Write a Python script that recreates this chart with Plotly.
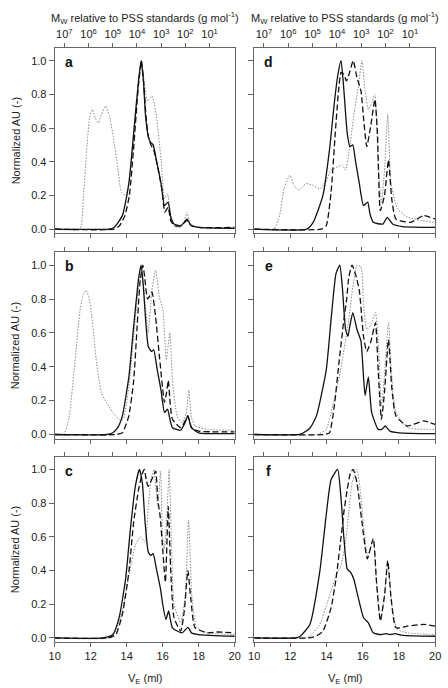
import plotly.graph_objects as go

# ---------------- data ----------------
# Panel a
a_solid_v = [10, 13.0, 13.3, 13.76, 14.12, 14.39, 14.66, 14.8, 14.93, 15.05, 15.2, 15.3, 15.47, 15.65, 15.91, 16.1, 16.3, 16.45, 16.63, 17.0, 17.2, 17.35, 17.55, 18.0, 20]
a_solid_y = [0, 0, 0.01, 0.08, 0.27, 0.57, 0.88, 1.0, 0.88, 0.67, 0.55, 0.52, 0.5, 0.41, 0.27, 0.14, 0.16, 0.07, 0.03, 0.02, 0.04, 0.06, 0.025, 0.01, 0.005]
a_dash_v = [10, 13.3, 13.6, 13.9, 14.15, 14.4, 14.65, 14.82, 14.95, 15.08, 15.22, 15.35, 15.5, 15.7, 15.95, 16.12, 16.3, 16.45, 16.65, 17.0, 17.35, 17.6, 18.0, 20]
a_dash_y = [0, 0, 0.02, 0.08, 0.2, 0.5, 0.85, 1.0, 0.86, 0.66, 0.54, 0.5, 0.47, 0.38, 0.24, 0.1, 0.13, 0.05, 0.02, 0.02, 0.05, 0.02, 0.01, 0.01]
a_dot_v = [10, 11.4, 11.6, 11.8, 11.95, 12.1, 12.25, 12.42, 12.6, 12.83, 13.05, 13.25, 13.5, 13.7, 13.95, 14.15, 14.3, 14.57, 14.75, 14.85, 15.0, 15.16, 15.41, 15.65, 15.91, 16.1, 16.27, 16.45, 16.63, 17.0, 17.2, 17.35, 17.55, 18.0, 20]
a_dot_y = [0, 0, 0.2, 0.5, 0.67, 0.71, 0.66, 0.63, 0.68, 0.73, 0.67, 0.55, 0.37, 0.22, 0.2, 0.3, 0.47, 0.8, 0.95, 0.97, 0.85, 0.76, 0.79, 0.67, 0.41, 0.18, 0.21, 0.08, 0.02, 0.01, 0.05, 0.1, 0.03, 0.01, 0.005]

# Panel b
b_solid_v = [10, 12.9, 13.23, 13.5, 13.76, 14.12, 14.39, 14.66, 14.8, 14.93, 15.05, 15.2, 15.38, 15.5, 15.7, 15.91, 16.1, 16.27, 16.4, 16.54, 17.0, 17.2, 17.4, 17.6, 18.0, 20]
b_solid_y = [0, 0, 0.01, 0.04, 0.11, 0.34, 0.64, 0.92, 1.0, 0.87, 0.68, 0.52, 0.49, 0.5, 0.38, 0.26, 0.13, 0.15, 0.09, 0.04, 0.025, 0.06, 0.11, 0.04, 0.01, 0.005]
b_dash_v = [10, 13.4, 13.76, 14.12, 14.39, 14.57, 14.75, 14.9, 15.0, 15.16, 15.3, 15.41, 15.6, 15.82, 16.1, 16.22, 16.31, 16.42, 16.54, 17.0, 17.2, 17.4, 17.6, 18.0, 20]
b_dash_y = [0, 0, 0.01, 0.11, 0.32, 0.62, 0.91, 1.0, 0.93, 0.8, 0.82, 0.84, 0.7, 0.46, 0.19, 0.25, 0.32, 0.18, 0.09, 0.04, 0.07, 0.11, 0.04, 0.02, 0.015]
b_dot_v = [10, 10.5, 10.8, 11.08, 11.43, 11.6, 11.76, 11.9, 12.06, 12.33, 12.6, 12.87, 13.23, 13.58, 13.8, 14.12, 14.39, 14.66, 14.85, 15.0, 15.2, 15.4, 15.61, 15.82, 16.0, 16.2, 16.4, 16.54, 16.8, 17.08, 17.3, 17.45, 17.6, 17.8, 18.5, 20]
b_dot_y = [0, 0, 0.1, 0.38, 0.75, 0.83, 0.85, 0.81, 0.7, 0.42, 0.245, 0.19, 0.13, 0.09, 0.09, 0.28, 0.58, 0.87, 0.95, 0.8, 0.6, 0.85, 0.97, 0.81, 0.745, 0.44, 0.6, 0.32, 0.11, 0.07, 0.12, 0.26, 0.1, 0.05, 0.03, 0.025]

# Panel c
c_solid_v = [10, 12.7, 13.23, 13.58, 13.94, 14.21, 14.48, 14.71, 14.87, 15.02, 15.2, 15.34, 15.47, 15.65, 15.88, 16.0, 16.18, 16.33, 16.54, 17.08, 17.4, 17.6, 18.0, 20]
c_solid_y = [0, 0, 0.02, 0.12, 0.35, 0.65, 0.9, 1.0, 0.92, 0.69, 0.51, 0.49, 0.5, 0.41, 0.29, 0.2, 0.11, 0.16, 0.06, 0.03, 0.063, 0.03, 0.02, 0.01]
c_dash_v = [10, 13.0, 13.4, 13.76, 14.12, 14.39, 14.66, 14.85, 14.98, 15.1, 15.2, 15.35, 15.47, 15.61, 15.73, 15.86, 16.0, 16.15, 16.31, 16.45, 16.63, 17.0, 17.2, 17.4, 17.56, 17.8, 18.5, 19.0, 20]
c_dash_y = [0, 0, 0.02, 0.14, 0.39, 0.69, 0.88, 0.97, 1.0, 0.93, 0.9, 0.93, 0.96, 0.99, 0.82, 0.72, 0.53, 0.33, 0.78, 0.39, 0.12, 0.04, 0.16, 0.4, 0.235, 0.06, 0.03, 0.035, 0.03]
c_dot_v = [10, 13.0, 13.4, 13.76, 14.12, 14.48, 14.75, 15.02, 15.2, 15.38, 15.52, 15.63, 15.73, 15.88, 16.0, 16.09, 16.22, 16.36, 16.48, 16.63, 17.0, 17.25, 17.44, 17.62, 17.9, 18.5, 20]
c_dot_y = [0, 0, 0.04, 0.16, 0.37, 0.55, 0.6, 0.57, 0.78, 0.96, 1.0, 0.88, 0.78, 0.99, 0.59, 0.53, 0.7, 1.0, 0.59, 0.2, 0.09, 0.25, 0.7, 0.25, 0.06, 0.03, 0.02]

# Panel d
d_solid_v = [10, 12.9, 13.26, 13.8, 14.16, 14.43, 14.6, 14.8, 14.96, 15.14, 15.29, 15.45, 15.59, 15.81, 16.04, 16.27, 16.4, 16.58, 17.11, 17.35, 17.65, 18.2, 20]
d_solid_y = [0, 0, 0.04, 0.2, 0.47, 0.75, 0.9, 1.0, 0.82, 0.57, 0.49, 0.5, 0.41, 0.27, 0.14, 0.16, 0.09, 0.04, 0.03, 0.07, 0.03, 0.015, 0.01]
d_dash_v = [10, 13.7, 13.98, 14.25, 14.48, 14.66, 14.8, 14.95, 15.1, 15.3, 15.47, 15.68, 15.9, 16.05, 16.22, 16.45, 16.67, 16.81, 16.97, 17.2, 17.42, 17.6, 17.83, 18.64, 19.35, 20]
d_dash_y = [0, 0, 0.02, 0.22, 0.57, 0.82, 0.93, 0.92, 0.88, 0.94, 1.0, 0.9, 0.82, 0.65, 0.49, 0.62, 0.77, 0.57, 0.11, 0.2, 0.41, 0.18, 0.06, 0.04, 0.08, 0.06]
d_dot_v = [10, 11.1, 11.4, 11.65, 11.97, 12.2, 12.46, 12.87, 13.26, 13.62, 13.95, 14.25, 14.6, 14.87, 15.05, 15.23, 15.5, 15.77, 15.95, 16.13, 16.31, 16.5, 16.67, 16.85, 17.03, 17.2, 17.38, 17.56, 17.92, 18.5, 19.3, 20]
d_dot_y = [0, 0, 0.08, 0.24, 0.32, 0.26, 0.23, 0.27, 0.26, 0.24, 0.28, 0.35, 0.37, 0.38, 0.35, 0.45, 0.67, 0.86, 1.0, 0.82, 0.71, 0.75, 0.8, 0.37, 0.16, 0.35, 0.68, 0.27, 0.12, 0.07, 0.05, 0.04]

# Panel e
e_solid_v = [10, 12.5, 12.72, 13.1, 13.44, 13.98, 14.25, 14.52, 14.73, 14.87, 15.05, 15.18, 15.3, 15.45, 15.68, 15.9, 16.04, 16.13, 16.31, 16.49, 16.85, 17.05, 17.24, 17.5, 18.0, 20]
e_solid_y = [0, 0, 0.01, 0.04, 0.11, 0.38, 0.68, 0.95, 1.0, 0.87, 0.62, 0.58, 0.65, 0.72, 0.62, 0.55, 0.34, 0.23, 0.34, 0.13, 0.03, 0.03, 0.05, 0.02, 0.01, 0.005]
e_dash_v = [10, 13.9, 14.16, 14.43, 14.7, 14.96, 15.1, 15.23, 15.41, 15.59, 15.81, 16.04, 16.22, 16.45, 16.7, 16.85, 17.03, 17.2, 17.42, 17.6, 17.83, 18.46, 19.35, 20]
e_dash_y = [0, 0, 0.01, 0.17, 0.44, 0.68, 0.79, 0.93, 1.0, 0.95, 0.85, 0.58, 0.49, 0.55, 0.66, 0.38, 0.09, 0.25, 0.56, 0.28, 0.11, 0.05, 0.08, 0.06]
e_dot_v = [10, 13.5, 13.98, 14.34, 14.7, 14.96, 15.23, 15.45, 15.68, 15.9, 16.04, 16.22, 16.45, 16.7, 16.87, 17.03, 17.2, 17.42, 17.58, 17.83, 18.5, 20]
e_dot_y = [0, 0, 0.03, 0.17, 0.34, 0.5, 0.68, 0.87, 1.0, 0.99, 0.77, 0.62, 0.65, 0.72, 0.52, 0.17, 0.35, 0.66, 0.38, 0.13, 0.04, 0.03]

# Panel f
f_solid_v = [10, 12.3, 12.54, 13.08, 13.62, 13.98, 14.25, 14.61, 14.79, 14.96, 15.14, 15.32, 15.5, 15.68, 15.86, 16.04, 16.31, 16.58, 17.0, 17.29, 17.5, 17.8, 18.2, 20]
f_solid_y = [0, 0, 0.01, 0.08, 0.39, 0.73, 0.94, 1.0, 0.84, 0.59, 0.41, 0.39, 0.35, 0.27, 0.19, 0.12, 0.09, 0.03, 0.02, 0.025, 0.02, 0.025, 0.015, 0.01]
f_dash_v = [10, 13.0, 13.4, 13.8, 14.25, 14.52, 14.79, 14.96, 15.14, 15.32, 15.47, 15.68, 15.95, 16.25, 16.58, 16.76, 16.97, 17.2, 17.38, 17.56, 17.83, 18.46, 19.35, 20]
f_dash_y = [0, 0, 0.01, 0.04, 0.18, 0.35, 0.59, 0.75, 0.88, 0.98, 1.0, 0.92, 0.69, 0.47, 0.59, 0.33, 0.1, 0.25, 0.46, 0.24, 0.06, 0.07, 0.08, 0.07]
f_dot_v = [10, 12.8, 13.08, 13.62, 14.16, 14.52, 14.79, 15.05, 15.23, 15.41, 15.68, 15.86, 16.04, 16.27, 16.58, 16.76, 16.97, 17.2, 17.38, 17.6, 17.9, 18.5, 20]
f_dot_y = [0, 0, 0.01, 0.08, 0.25, 0.37, 0.43, 0.57, 0.75, 0.92, 1.0, 0.88, 0.67, 0.49, 0.58, 0.33, 0.11, 0.25, 0.45, 0.2, 0.05, 0.03, 0.02]

panel_labels = ["a", "b", "c", "d", "e", "f"]
x_ticks = [10, 12, 14, 16, 18, 20]
y_ticks = [0.0, 0.2, 0.4, 0.6, 0.8, 1.0]
mw_exponents = [7, 6, 5, 4, 3, 2, 1]
# column calibration: V_E position of 10^7 and ml per decade
cal_v_at_1e7 = 10.54
cal_ml_per_decade = 1.344

panels = [
    (a_solid_v, a_solid_y, a_dash_v, a_dash_y, a_dot_v, a_dot_y),
    (b_solid_v, b_solid_y, b_dash_v, b_dash_y, b_dot_v, b_dot_y),
    (c_solid_v, c_solid_y, c_dash_v, c_dash_y, c_dot_v, c_dot_y),
    (d_solid_v, d_solid_y, d_dash_v, d_dash_y, d_dot_v, d_dot_y),
    (e_solid_v, e_solid_y, e_dash_v, e_dash_y, e_dot_v, e_dot_y),
    (f_solid_v, f_solid_y, f_dash_v, f_dash_y, f_dot_v, f_dot_y),
]

# ---------------- layout geometry ----------------
W, H = 448, 688
col_px = [(50, 235), (255, 441)]
row_px = [(48, 234), (253, 440), (458, 644)]
FONT = "Liberation Sans, Arial, sans-serif"
AXC = "#666666"
TXT = "#222222"

mw_tickvals = [cal_v_at_1e7 + (7 - e) * cal_ml_per_decade for e in mw_exponents]
mw_ticktext = ["10<sup>%d</sup>" % e for e in mw_exponents]

fig = go.Figure()
layout = dict(
    width=W, height=H,
    margin=dict(l=0, r=0, t=0, b=0),
    paper_bgcolor="white", plot_bgcolor="white",
    showlegend=False,
    font=dict(family=FONT, size=11, color=TXT),
)
annotations = []

for i, (sv, sy, dv, dy, ov, oy) in enumerate(panels):
    col = i // 3
    row = i % 3
    n = i + 1
    xs = "" if n == 1 else str(n)
    xd = [col_px[col][0] / W, col_px[col][1] / W]
    yd = [1 - row_px[row][1] / H, 1 - row_px[row][0] / H]

    fig.add_trace(go.Scatter(x=ov, y=oy, mode="lines", xaxis="x" + xs, yaxis="y" + xs,
                             line=dict(color="#8a8a8a", width=1.0, dash="1.5px,1.5px", shape="spline", smoothing=0.5)))
    fig.add_trace(go.Scatter(x=dv, y=dy, mode="lines", xaxis="x" + xs, yaxis="y" + xs,
                             line=dict(color="#111111", width=1.3, dash="6px,3px", shape="spline", smoothing=0.5)))
    fig.add_trace(go.Scatter(x=sv, y=sy, mode="lines", xaxis="x" + xs, yaxis="y" + xs,
                             line=dict(color="#111111", width=1.3, shape="spline", smoothing=0.5)))

    layout["xaxis" + xs] = dict(
        domain=xd, anchor="y" + xs, range=[10, 20],
        tickmode="array", tickvals=x_ticks, ticktext=[str(t) for t in x_ticks],
        showticklabels=(row == 2), ticks="outside", ticklen=4, tickcolor=AXC,
        showline=True, linecolor=AXC, linewidth=1, mirror=True,
        showgrid=False, zeroline=False,
        tickfont=dict(family=FONT, size=11, color=TXT),
    )
    layout["yaxis" + xs] = dict(
        domain=yd, anchor="x" + xs, range=[-0.025, 1.076],
        tickmode="array", tickvals=y_ticks, ticktext=["%.1f" % t for t in y_ticks],
        showticklabels=(col == 0), ticks="outside", ticklen=5, tickcolor=AXC,
        showline=True, linecolor=AXC, linewidth=1, mirror=True,
        showgrid=False, zeroline=False,
        tickfont=dict(family=FONT, size=11, color=TXT),
    )
    top = str(n + 6)
    layout["xaxis" + top] = dict(
        overlaying="x" + xs, side="top", anchor="y" + xs, range=[10, 20],
        tickmode="array", tickvals=mw_tickvals, ticktext=mw_ticktext,
        showticklabels=(row == 0), ticks="outside", ticklen=4, tickcolor=AXC,
        showline=False, showgrid=False, zeroline=False,
        tickfont=dict(family=FONT, size=11, color=TXT),
    )
    # dummy trace so the top axis is drawn
    fig.add_trace(go.Scatter(x=[10, 20], y=[None, None], mode="lines", xaxis="x" + top, yaxis="y" + xs,
                             hoverinfo="skip", showlegend=False))

    # panel letter
    annotations.append(dict(text="<b>%s</b>" % panel_labels[i], xref="x%s domain" % xs, yref="y%s domain" % xs,
                            x=0.08, y=0.925, xanchor="center", yanchor="middle", showarrow=False,
                            font=dict(family=FONT, size=14, color="#111111")))
    if col == 0:
        annotations.append(dict(text="Normalized AU (-)", xref="paper", yref="paper",
                                x=10 / W, y=(yd[0] + yd[1]) / 2, textangle=-90,
                                xanchor="center", yanchor="middle", showarrow=False,
                                font=dict(family=FONT, size=11, color=TXT)))
    if row == 0:
        annotations.append(dict(text="M<sub>W</sub> relative to PSS standards (g mol<sup>-1</sup>)",
                                xref="paper", yref="paper", x=(xd[0] + xd[1]) / 2, y=1 - 18 / H,
                                xanchor="center", yanchor="middle", showarrow=False,
                                font=dict(family=FONT, size=11, color=TXT)))
    if row == 2:
        annotations.append(dict(text="V<sub>E</sub> (ml)", xref="paper", yref="paper",
                                x=(xd[0] + xd[1]) / 2, y=1 - 681 / H,
                                xanchor="center", yanchor="middle", showarrow=False,
                                font=dict(family=FONT, size=11, color=TXT)))

layout["annotations"] = annotations
fig.update_layout(**layout)
fig.write_html("out.html")
